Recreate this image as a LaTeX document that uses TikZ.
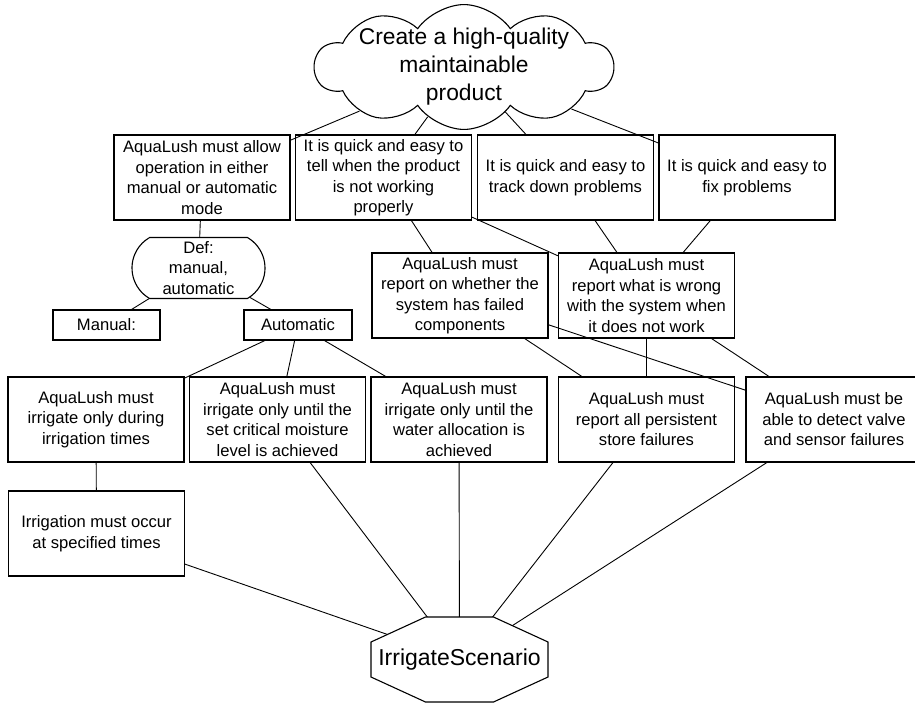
\documentclass[tikz,border=0pt]{standalone}
\usepackage{fontspec}
\setmainfont{Liberation Sans}
\usetikzlibrary{shapes.symbols,shapes.misc}
\pgfdeclarelayer{back}
\pgfdeclarelayer{mid}
\pgfsetlayers{back,mid,main}
\begin{document}
\begin{tikzpicture}[x=1pt,y=-1pt,
  txt/.style={font=\fontsize{16.6}{20.5}\selectfont},
  box/.style={txt, draw, line width=1.1pt, rectangle, minimum width=176pt, minimum height=85pt, inner sep=0pt, align=center},
  smallbox/.style={txt, draw, line width=1.1pt, rectangle, minimum height=30pt, inner sep=0pt, align=center},
  conn/.style={line width=0.9pt}
]
\useasboundingbox (0,0) rectangle (915,705);

\node[cloud, draw, line width=1.1pt, cloud puffs=10, cloud puff arc=110, cloud ignores aspect,
      minimum width=298pt, minimum height=10pt, inner xsep=0pt, inner ysep=-10pt, align=center,
      font=\fontsize{22.8}{28}\selectfont] (goal) at (464,67) {Create a high-quality\\maintainable\\product};

\node[box] (A) at (202,177.5) {AquaLush must allow\\operation in either\\manual or automatic\\mode};
\node[box] (B) at (383.5,177.5) {It is quick and easy to\\tell when the product\\is not working\\properly};
\node[box] (C) at (565.5,177.5) {It is quick and easy to\\track down problems};
\node[box] (D) at (747,177.5) {It is quick and easy to\\fix problems};

\node[txt, draw, line width=1.1pt, rounded rectangle, rounded rectangle arc length=120,
      minimum width=133pt, minimum height=61pt, inner sep=0pt, align=center] (def) at (198.5,268) {Def:\\manual,\\automatic};
\node[smallbox, minimum width=107pt] (manual) at (106.5,325) {Manual:};
\node[smallbox, minimum width=108pt] (auto) at (298,325) {Automatic};

\node[box] (R1) at (460,295.5) {AquaLush must\\report on whether the\\system has failed\\components};
\node[box] (R2) at (646.5,295.5) {AquaLush must\\report what is wrong\\with the system when\\it does not work};

\node[box] (E) at (96,419.5) {AquaLush must\\irrigate only during\\irrigation times};
\node[box] (F) at (277.5,419.5) {AquaLush must\\irrigate only until the\\set critical moisture\\level is achieved};
\node[box] (G) at (459,419.5) {AquaLush must\\irrigate only until the\\water allocation is\\achieved};
\node[box] (H) at (646.5,419.5) {AquaLush must\\report all persistent\\store failures};
\node[box] (I) at (834,419.5) {AquaLush must be\\able to detect valve\\and sensor failures};
\node[box] (J) at (96.5,533.5) {Irrigation must occur\\at specified times};

\node[font=\fontsize{23}{28}\selectfont, minimum width=177pt, minimum height=85pt, inner sep=0pt] (scen) at (459.5,659.5) {IrrigateScenario};

\begin{pgfonlayer}{mid}
  \draw[line width=1.1pt, fill=white, shift={(scen.center)}]
    (-34,-42.5) -- (34,-42.5) -- (88.5,-17.5) -- (88.5,17.5) -- (34,42.5) -- (-34,42.5) -- (-88.5,17.5) -- (-88.5,-17.5) -- cycle;
\end{pgfonlayer}

\begin{pgfonlayer}{back}
  \draw[conn] (J) -- (scen.center);
  \draw[conn] (F) -- (scen.center);
  \draw[conn] (G) -- (scen.center);
  \draw[conn] (H) -- (scen.center);
  \draw[conn] (I) -- (scen.center);
\end{pgfonlayer}

\draw[conn] (goal) -- (A);
\draw[conn] (goal) -- (B);
\draw[conn] (goal) -- (C);
\draw[conn] (goal) -- (D);
\draw[conn] (A) -- (def);
\draw[conn] (def) -- (manual);
\draw[conn] (def) -- (auto);
\draw[conn] (B) -- (R1);
\draw[conn] (B) -- (R2);
\draw[conn] (C) -- (R2);
\draw[conn] (D) -- (R2);
\draw[conn] (R1) -- (H);
\draw[conn] (R1) -- (I);
\draw[conn] (R2) -- (H);
\draw[conn] (R2) -- (I);
\draw[conn] (auto) -- (E);
\draw[conn] (auto) -- (F);
\draw[conn] (auto) -- (G);
\draw[conn] (E) -- (J);
\end{tikzpicture}
\end{document}
